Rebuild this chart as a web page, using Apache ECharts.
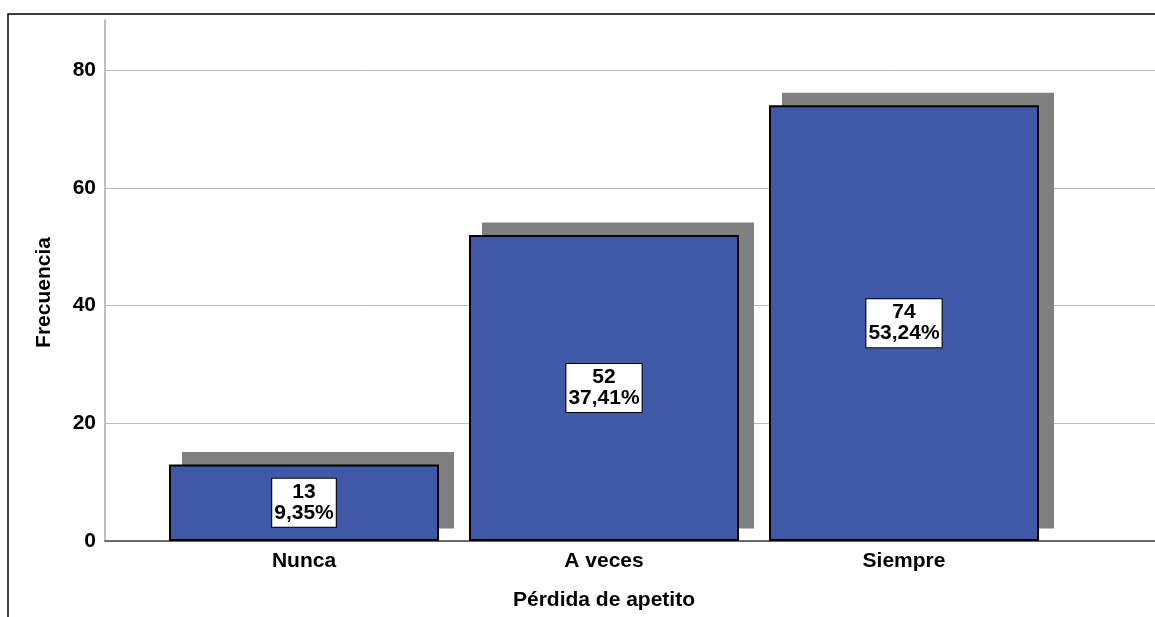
<!DOCTYPE html>
<html>
<head>
<meta charset="utf-8">
<script src="https://cdn.jsdelivr.net/npm/echarts@6/dist/echarts.min.js"></script>
<style>
  html, body { margin: 0; padding: 0; background: #fff; }
  #chart { width: 1155px; height: 617px; }
</style>
</head>
<body>
<div id="chart"></div>
<script>
const categories = ["Nunca", "A veces", "Siempre"];
const counts = [13, 52, 74];
const percents = ["9,35%", "37,41%", "53,24%"];
const yTicks = [0, 20, 40, 60, 80];

const chart = echarts.init(document.getElementById("chart"), null, { renderer: "canvas" });
const font = "Arial, 'Liberation Sans', sans-serif";
const txt = { color: "#000", fontFamily: font, fontWeight: "bold", fontSize: 21 };

// grey drop shadow behind each bar, shifted right and up
function renderShadow(params, api) {
  const idx = api.value(0);
  const top = api.coord([idx, api.value(1)]);
  const base = api.coord([idx, 0]);
  const w = api.size([1, 0])[0] * 0.9;
  return {
    type: "rect",
    shape: { x: top[0] - w / 2 + 13, y: top[1] - 12.5, width: w + 2, height: base[1] - top[1] },
    style: { fill: "#808080" },
  };
}

const option = {
  animation: false,
  backgroundColor: "#fff",
  graphic: [
    {
      type: "rect",
      shape: { x: 8, y: 14, width: 1300, height: 800 },
      style: { fill: "none", stroke: "#000", lineWidth: 1.5 },
      z: 0,
    },
  ],
  grid: [
    { left: 105, right: 0, top: 20, bottom: 76 },
    { left: 154, right: 101, top: 20, bottom: 76 },
  ],
  xAxis: [
    {
      gridIndex: 0,
      type: "category",
      data: [""],
      axisLine: { lineStyle: { color: "#444", width: 1.5 } },
      axisTick: { show: false },
      axisLabel: { show: false },
    },
    {
      gridIndex: 1,
      type: "category",
      data: categories,
      axisLine: { show: false },
      axisTick: { show: false },
      axisLabel: Object.assign({ margin: 10 }, txt),
      name: "Pérdida de apetito",
      nameLocation: "middle",
      nameGap: 49,
      nameTextStyle: txt,
    },
  ],
  yAxis: [
    {
      gridIndex: 0,
      type: "value",
      min: yTicks[0],
      max: 88.5,
      interval: 20,
      axisLine: { show: true, lineStyle: { color: "#aaa", width: 1.5 } },
      axisTick: { show: false },
      splitLine: { showMaxLine: false, lineStyle: { color: "#bbb", width: 1 } },
      axisLabel: Object.assign({
        margin: 9,
        formatter: (v) => (yTicks.includes(v) ? String(v) : ""),
      }, txt),
      name: "Frecuencia",
      nameLocation: "middle",
      nameGap: 50,
      nameTextStyle: Object.assign({ padding: [0, 24, 0, 0] }, txt),
    },
    {
      gridIndex: 1,
      type: "value",
      min: 0,
      max: 88.5,
      show: false,
    },
  ],
  series: [
    {
      type: "custom",
      xAxisIndex: 1,
      yAxisIndex: 1,
      renderItem: renderShadow,
      data: counts.map((v, i) => [i, v]),
      z: 3,
      silent: true,
    },
    {
      type: "bar",
      xAxisIndex: 1,
      yAxisIndex: 1,
      barWidth: 270,
      data: counts,
      z: 5,
      itemStyle: {
        color: "#3F59A8",
        borderColor: "#000",
        borderWidth: 2,
      },
      label: {
        show: true,
        position: "inside",
        formatter: (p) => counts[p.dataIndex] + "\n" + percents[p.dataIndex],
        color: "#000",
        fontFamily: font,
        fontWeight: "bold",
        fontSize: 21,
        lineHeight: 21,
        backgroundColor: "#fff",
        borderColor: "#000",
        borderWidth: 1,
        padding: [4, 2, 2, 2],
      },
    },
  ],
};

chart.setOption(option);
window.addEventListener("resize", chart.resize);
</script>
</body>
</html>
